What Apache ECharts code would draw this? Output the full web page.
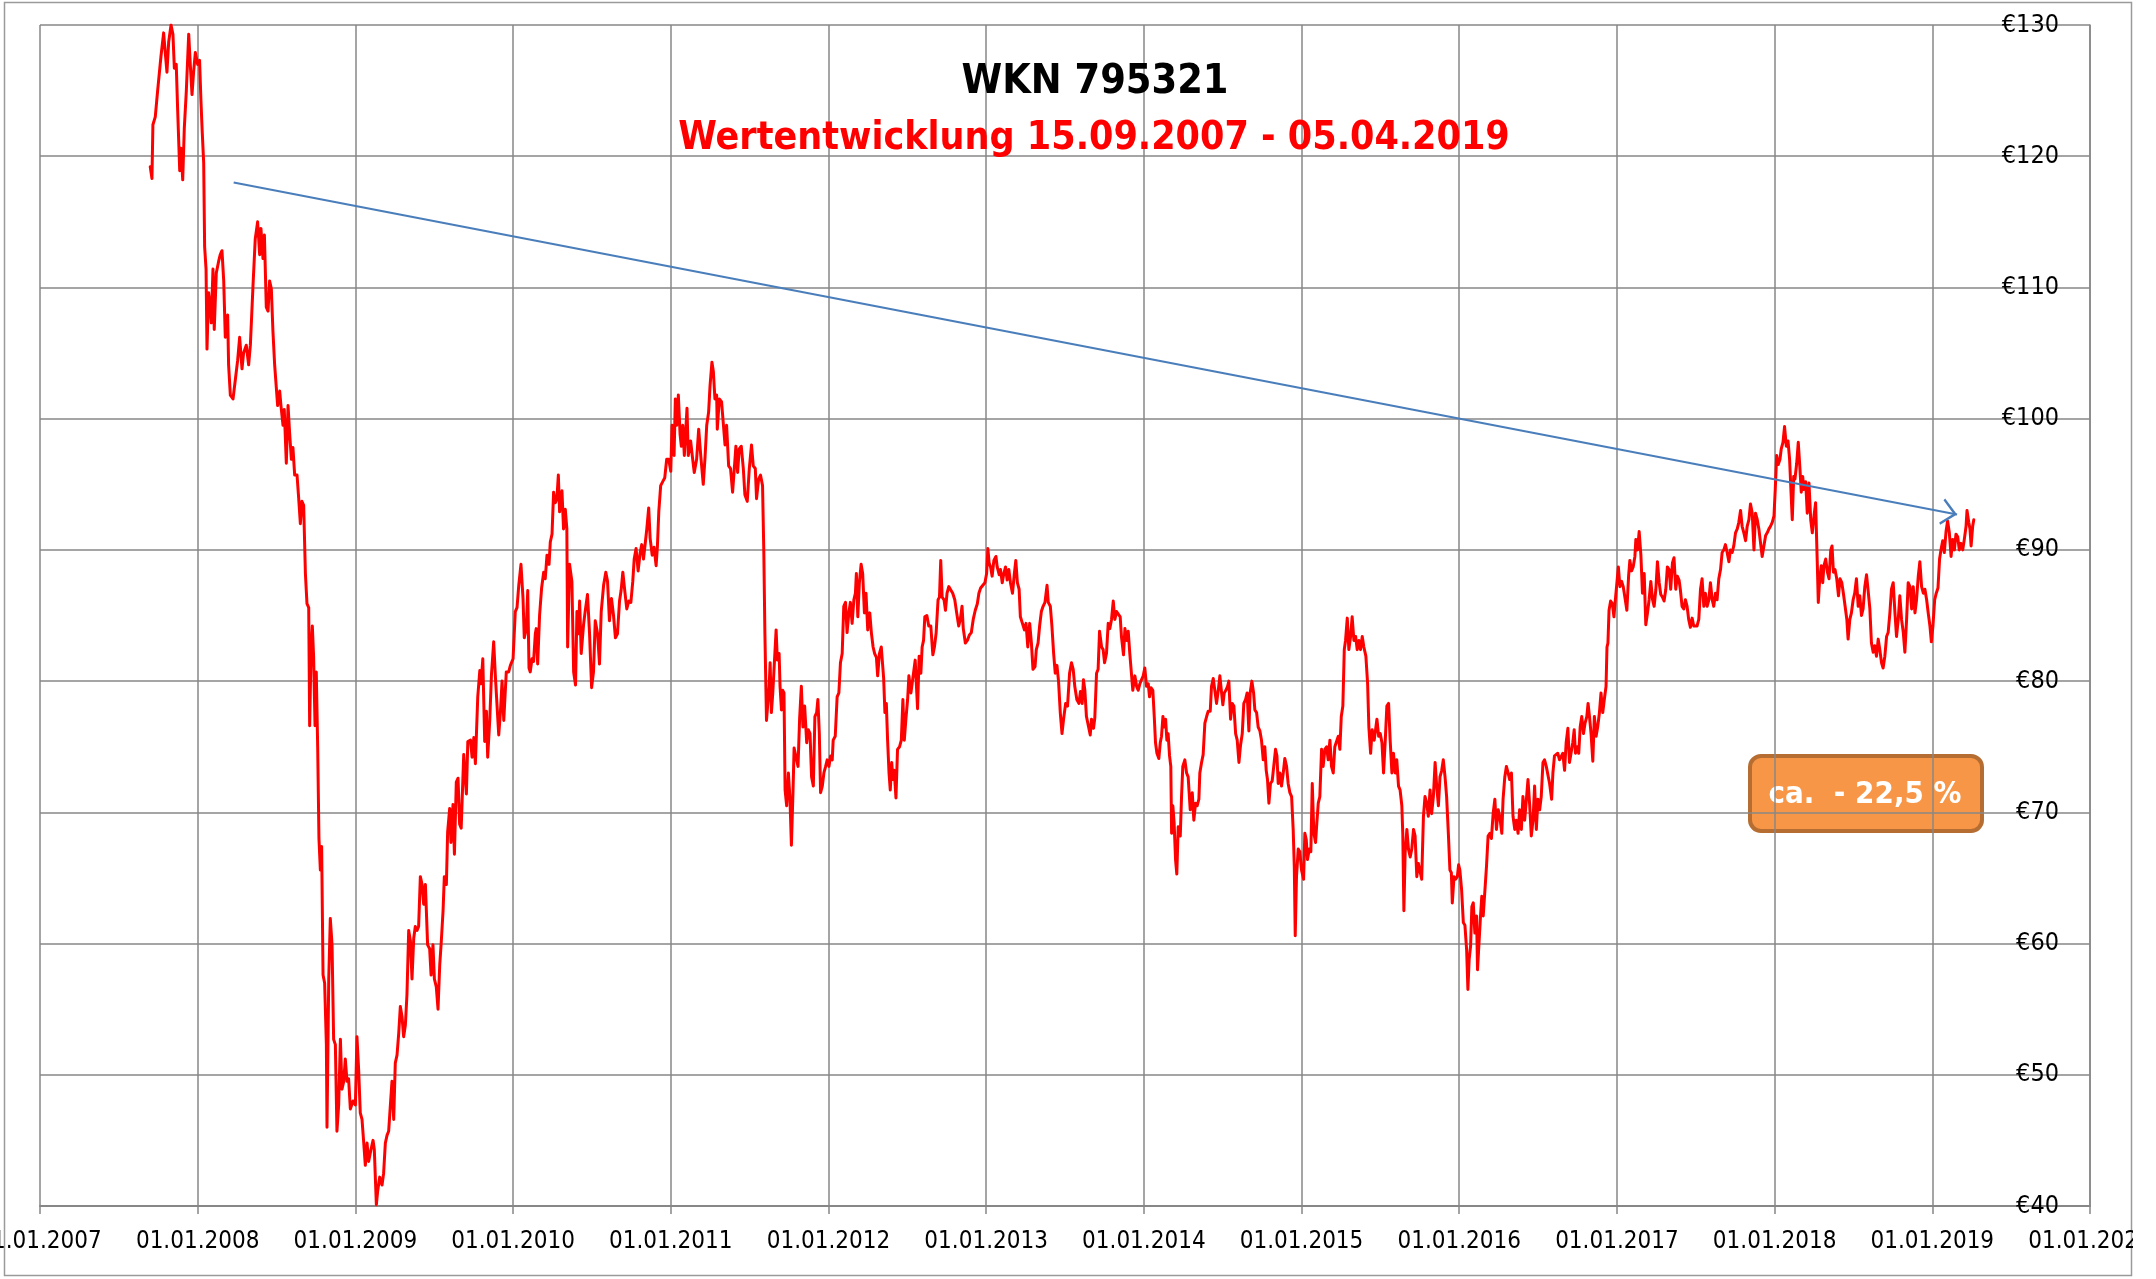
<!DOCTYPE html>
<html>
<head>
<meta charset="utf-8">
<title>WKN 795321</title>
<script src="https://cdn.jsdelivr.net/npm/echarts@6/dist/echarts.min.js"></script>
<style>
  html, body { margin: 0; padding: 0; background: #ffffff; }
  #chart { width: 2133px; height: 1279px; }
</style>
</head>
<body>
<div id="chart"></div>
<script>
// Closing prices, [date as decimal year, price in EUR]
const kurs2007_09 = [[2007.699,119.2],[2007.710,118.3],[2007.716,122.4],[2007.731,123.0],[2007.746,125.0],[2007.757,125.0],[2007.767,127.6],[2007.784,129.4],[2007.795,127.8],[2007.805,126.4],[2007.816,128.7],[2007.831,130.0],[2007.843,129.3],[2007.852,126.7],[2007.864,127.0],[2007.873,123.5],[2007.886,118.9],[2007.894,120.6],[2007.905,118.2],[2007.915,122.1],[2007.928,125.0],[2007.943,129.3],[2007.953,127.0],[2007.964,124.7],[2007.974,126.4],[2007.985,127.9],[2008.000,127.0],[2008.012,127.3],[2008.021,124.1],[2008.029,121.8],[2008.038,119.5],[2008.044,113.1],[2008.053,111.4],[2008.059,105.3],[2008.069,109.6],[2008.080,108.5],[2008.086,107.3],[2008.097,111.4],[2008.105,106.8],[2008.118,111.1],[2008.133,112.0],[2008.143,112.5],[2008.154,112.8],[2008.165,110.5],[2008.175,106.2],[2008.190,107.9],[2008.196,104.1],[2008.207,101.8],[2008.224,101.5],[2008.239,103.0],[2008.253,104.4],[2008.266,106.2],[2008.281,103.8],[2008.291,105.0],[2008.308,105.6],[2008.323,104.1],[2008.334,105.6],[2008.351,110.2],[2008.365,113.7],[2008.380,115.0],[2008.393,112.5],[2008.401,114.5],[2008.414,112.2],[2008.423,114.0],[2008.435,108.5],[2008.446,108.2],[2008.456,110.5],[2008.467,109.9],[2008.477,106.7],[2008.488,104.1],[2008.499,104.1],[2008.507,101.0],[2008.520,102.1],[2008.528,101.0],[2008.541,99.5],[2008.549,100.7],[2008.562,96.6],[2008.573,101.0],[2008.583,98.9],[2008.594,96.9],[2008.604,97.8],[2008.615,95.7],[2008.630,95.7],[2008.640,94.0],[2008.651,92.0],[2008.661,93.7],[2008.672,93.4],[2008.683,88.2],[2008.693,85.9],[2008.704,85.6],[2008.710,76.6],[2008.719,82.4],[2008.727,84.2],[2008.735,81.9],[2008.744,76.6],[2008.752,80.7],[2008.761,74.9],[2008.769,68.0],[2008.778,65.6],[2008.786,67.4],[2008.795,57.6],[2008.805,57.0],[2008.816,52.3],[2008.820,46.0],[2008.831,57.3],[2008.841,61.9],[2008.852,59.9],[2008.862,52.7],[2008.873,52.3],[2008.883,45.7],[2008.894,47.7],[2008.905,52.7],[2008.915,48.9],[2008.926,49.5],[2008.936,51.2],[2008.947,49.5],[2008.957,49.7],[2008.968,47.4],[2008.985,48.0],[2009.000,47.7],[2009.010,52.9],[2009.021,50.3],[2009.031,47.1],[2009.042,46.6],[2009.053,44.8],[2009.063,43.1],[2009.074,44.8],[2009.084,43.4],[2009.099,44.3],[2009.112,45.0],[2009.120,44.3],[2009.133,40.1],[2009.141,41.1],[2009.154,42.2],[2009.169,41.6],[2009.179,42.5],[2009.190,44.8],[2009.201,45.4],[2009.211,45.7],[2009.222,47.7],[2009.232,49.5],[2009.243,46.6],[2009.253,50.9],[2009.264,51.5],[2009.275,53.2],[2009.285,55.2],[2009.296,54.4],[2009.306,52.9],[2009.317,53.8],[2009.327,56.1],[2009.338,61.0],[2009.349,60.2],[2009.359,57.3],[2009.370,60.4],[2009.380,61.3],[2009.391,61.0],[2009.401,61.3],[2009.412,65.1],[2009.423,64.5],[2009.433,63.0],[2009.444,64.5],[2009.458,59.9],[2009.471,59.6],[2009.480,57.6],[2009.492,59.9],[2009.501,57.3],[2009.513,56.7],[2009.524,55.0],[2009.535,58.4],[2009.545,60.2],[2009.556,62.5],[2009.564,65.1],[2009.577,64.5],[2009.585,68.5],[2009.598,70.3],[2009.606,67.7],[2009.619,70.6],[2009.628,66.8],[2009.640,72.3],[2009.651,72.6],[2009.661,69.1]];

const kurs2009_11 = [[2009.671,68.8],[2009.687,74.4],[2009.704,71.4],[2009.713,75.4],[2009.730,75.5],[2009.740,74.2],[2009.751,75.7],[2009.761,73.7],[2009.776,78.8],[2009.789,80.8],[2009.797,79.8],[2009.808,81.7],[2009.820,75.4],[2009.831,77.7],[2009.839,74.2],[2009.852,77.0],[2009.863,80.5],[2009.877,83.0],[2009.888,80.3],[2009.898,80.3],[2009.909,75.9],[2009.920,77.7],[2009.930,80.0],[2009.941,77.0],[2009.957,80.7],[2009.972,80.7],[2009.983,81.2],[2010.000,81.7],[2010.014,85.3],[2010.025,85.6],[2010.036,87.3],[2010.050,88.9],[2010.063,86.3],[2010.071,83.3],[2010.084,84.0],[2010.093,86.9],[2010.101,81.0],[2010.109,80.7],[2010.120,81.7],[2010.130,81.5],[2010.141,83.6],[2010.147,84.0],[2010.156,81.3],[2010.168,85.0],[2010.181,87.1],[2010.194,88.3],[2010.204,87.8],[2010.215,89.6],[2010.228,88.9],[2010.236,90.6],[2010.247,91.2],[2010.257,94.4],[2010.268,93.6],[2010.278,93.9],[2010.287,95.7],[2010.295,92.9],[2010.310,94.5],[2010.320,91.6],[2010.331,93.1],[2010.341,91.6],[2010.346,82.6],[2010.358,88.9],[2010.373,87.6],[2010.384,80.7],[2010.396,79.7],[2010.405,85.3],[2010.415,83.6],[2010.422,86.1],[2010.432,82.1],[2010.447,84.3],[2010.457,85.3],[2010.472,86.6],[2010.485,83.6],[2010.498,79.5],[2010.510,80.7],[2010.521,84.6],[2010.536,83.6],[2010.548,81.3],[2010.559,85.3],[2010.574,87.3],[2010.588,88.3],[2010.599,87.6],[2010.611,84.6],[2010.624,86.3],[2010.637,85.0],[2010.649,83.3],[2010.662,83.6],[2010.675,86.1],[2010.685,86.9],[2010.696,88.3],[2010.709,86.8],[2010.721,85.5],[2010.734,86.1],[2010.747,86.0],[2010.759,87.6],[2010.768,89.3],[2010.780,90.1],[2010.793,88.4],[2010.806,89.8],[2010.816,90.4],[2010.827,89.3],[2010.839,90.6],[2010.848,91.6],[2010.860,93.2],[2010.869,90.9],[2010.882,89.6],[2010.894,90.2],[2010.907,88.8],[2010.915,90.2],[2010.924,92.9],[2010.936,94.9],[2010.949,95.2],[2010.962,95.5],[2010.974,96.9],[2010.987,96.9],[2011.000,96.0],[2011.008,99.5],[2011.021,97.2],[2011.029,101.5],[2011.038,99.5],[2011.048,101.8],[2011.059,98.8],[2011.067,97.9],[2011.076,99.5],[2011.086,97.2],[2011.103,100.8],[2011.111,97.2],[2011.126,98.3],[2011.139,96.9],[2011.149,95.9],[2011.164,96.9],[2011.177,99.2],[2011.190,97.2],[2011.206,95.0],[2011.217,97.0],[2011.228,99.5],[2011.240,100.5],[2011.249,102.5],[2011.261,104.3],[2011.270,103.6],[2011.280,101.5],[2011.291,101.8],[2011.295,99.2],[2011.308,101.5],[2011.322,101.3],[2011.333,101.3],[2011.344,98.0],[2011.354,99.5],[2011.367,96.4],[2011.379,96.2],[2011.392,94.4],[2011.403,96.2],[2011.413,97.9],[2011.424,95.9],[2011.434,97.7],[2011.447,97.9],[2011.460,96.2],[2011.470,94.2],[2011.485,93.7],[2011.498,96.2],[2011.512,98.0],[2011.523,96.4],[2011.536,96.2],[2011.544,93.9],[2011.557,95.4],[2011.569,95.7],[2011.582,94.9],[2011.590,89.9],[2011.597,83.6],[2011.607,77.0]];

const kurs2011_13 = [[2011.624,79.6],[2011.630,81.4],[2011.638,77.6],[2011.647,79.1],[2011.659,79.2],[2011.668,83.9],[2011.676,81.6],[2011.687,82.1],[2011.693,79.6],[2011.702,77.8],[2011.710,79.3],[2011.718,79.1],[2011.725,71.7],[2011.735,70.5],[2011.746,73.0],[2011.756,71.0],[2011.765,67.5],[2011.775,71.5],[2011.782,74.9],[2011.792,74.8],[2011.807,73.5],[2011.817,77.1],[2011.828,79.6],[2011.838,76.5],[2011.849,78.1],[2011.862,75.3],[2011.872,76.3],[2011.883,76.0],[2011.893,72.7],[2011.904,72.0],[2011.914,77.3],[2011.925,77.6],[2011.933,78.6],[2011.942,76.0],[2011.950,71.5],[2011.961,72.0],[2011.971,73.0],[2011.982,73.5],[2011.992,74.0],[2012.003,73.5],[2012.013,74.3],[2012.024,74.0],[2012.030,75.5],[2012.043,75.8],[2012.055,78.8],[2012.066,79.1],[2012.076,81.4],[2012.087,82.1],[2012.097,85.7],[2012.108,86.0],[2012.118,83.7],[2012.129,85.2],[2012.139,86.0],[2012.150,84.4],[2012.161,86.2],[2012.171,86.7],[2012.177,88.2],[2012.186,84.9],[2012.196,87.5],[2012.207,88.9],[2012.217,88.2],[2012.228,85.2],[2012.238,86.7],[2012.249,83.9],[2012.262,85.2],[2012.272,83.7],[2012.283,82.6],[2012.293,82.1],[2012.304,81.8],[2012.312,80.4],[2012.323,82.1],[2012.335,82.6],[2012.350,80.2],[2012.358,77.6],[2012.367,78.3],[2012.375,75.5],[2012.384,73.0],[2012.392,71.7],[2012.401,73.8],[2012.409,72.5],[2012.417,73.2],[2012.428,71.1],[2012.438,74.8],[2012.451,75.0],[2012.462,75.5],[2012.472,78.6],[2012.481,75.5],[2012.491,77.1],[2012.502,78.6],[2012.510,80.4],[2012.523,79.1],[2012.535,79.0],[2012.550,81.6],[2012.556,80.1],[2012.565,77.9],[2012.575,81.9],[2012.586,80.6],[2012.594,82.6],[2012.603,83.1],[2012.611,84.9],[2012.624,85.0],[2012.636,84.2],[2012.649,84.2],[2012.662,82.0],[2012.672,82.6],[2012.683,83.7],[2012.695,86.2],[2012.704,86.4],[2012.712,89.2],[2012.721,86.4],[2012.733,86.2],[2012.742,85.4],[2012.752,86.7],[2012.763,87.2],[2012.775,87.2],[2012.788,86.7],[2012.801,86.2],[2012.813,85.2],[2012.826,84.2],[2012.836,84.7],[2012.847,85.7],[2012.855,84.0],[2012.868,82.9],[2012.881,83.1],[2012.893,83.5],[2012.906,83.7],[2012.918,84.7],[2012.931,85.4],[2012.944,85.9],[2012.954,86.7],[2012.965,87.1],[2012.977,87.1],[2012.992,87.5],[2013.003,88.2],[2013.011,90.1],[2013.019,89.0],[2013.028,88.7],[2013.038,88.0],[2013.049,89.2],[2013.062,89.5],[2013.070,88.7],[2013.083,88.1],[2013.091,88.5],[2013.102,87.5],[2013.112,88.2],[2013.123,88.7],[2013.133,87.7],[2013.144,88.5],[2013.154,87.5],[2013.167,86.7],[2013.179,88.2],[2013.188,89.2],[2013.198,87.5],[2013.209,87.0],[2013.217,84.9],[2013.230,84.4],[2013.243,83.9],[2013.253,84.4],[2013.264,82.6],[2013.276,84.4],[2013.287,82.9],[2013.297,80.9],[2013.310,81.1],[2013.318,82.4],[2013.329,82.9],[2013.339,84.2],[2013.350,85.3],[2013.361,85.7],[2013.373,86.0],[2013.386,87.3],[2013.394,86.0],[2013.407,85.7],[2013.417,84.2],[2013.428,82.1],[2013.438,80.6],[2013.449,81.2],[2013.459,80.0],[2013.470,77.6],[2013.481,76.0],[2013.491,77.1],[2013.504,78.3],[2013.516,78.1],[2013.529,80.6]];

const kurs2013_15 = [[2013.541,81.4],[2013.552,80.9],[2013.562,79.6],[2013.575,78.6],[2013.588,78.3],[2013.598,79.2],[2013.609,78.3],[2013.617,80.1],[2013.626,79.3],[2013.636,77.3],[2013.647,77.3],[2013.660,75.9],[2013.668,77.1],[2013.681,76.4],[2013.689,77.2],[2013.700,80.6],[2013.710,80.9],[2013.719,83.8],[2013.732,82.6],[2013.742,82.4],[2013.751,81.4],[2013.763,82.1],[2013.774,84.4],[2013.784,84.0],[2013.795,84.7],[2013.806,86.1],[2013.816,84.7],[2013.827,85.3],[2013.837,85.2],[2013.850,84.9],[2013.858,83.4],[2013.871,82.0],[2013.880,84.0],[2013.892,83.1],[2013.901,83.8],[2013.911,82.1],[2013.922,82.1],[2013.930,79.3],[2013.943,80.4],[2013.954,79.6],[2013.964,79.3],[2013.975,79.8],[2013.985,80.1],[2013.996,80.4],[2014.006,81.0],[2014.017,79.6],[2014.028,79.8],[2014.036,78.8],[2014.045,79.5],[2014.057,79.3],[2014.066,77.3],[2014.074,75.3],[2014.083,74.5],[2014.095,74.1],[2014.104,75.3],[2014.112,75.8],[2014.121,77.3],[2014.129,76.5],[2014.138,77.1],[2014.146,75.5],[2014.154,76.0],[2014.163,74.3],[2014.171,73.5],[2014.176,68.4],[2014.184,70.5],[2014.192,69.2],[2014.201,66.4],[2014.209,65.3],[2014.218,68.9],[2014.231,68.2],[2014.239,71.2],[2014.247,73.5],[2014.260,74.0],[2014.271,73.0],[2014.281,72.7],[2014.294,70.2],[2014.307,71.5],[2014.317,69.4],[2014.328,70.7],[2014.338,70.5],[2014.349,71.0],[2014.355,73.0],[2014.366,73.8],[2014.376,74.4],[2014.387,76.8],[2014.398,77.3],[2014.408,77.7],[2014.421,77.7],[2014.429,79.6],[2014.440,80.2],[2014.450,79.3],[2014.461,78.3],[2014.472,79.3],[2014.482,80.4],[2014.493,79.1],[2014.501,78.2],[2014.510,79.1],[2014.520,79.3],[2014.531,79.6],[2014.539,80.0],[2014.550,77.1],[2014.560,78.3],[2014.571,78.1],[2014.582,76.0],[2014.592,75.5],[2014.603,73.8],[2014.613,75.1],[2014.624,76.0],[2014.634,78.3],[2014.645,78.6],[2014.655,79.1],[2014.666,76.2],[2014.674,79.1],[2014.685,80.0],[2014.696,79.1],[2014.704,77.8],[2014.715,77.6],[2014.725,76.5],[2014.736,76.2],[2014.746,75.5],[2014.757,74.0],[2014.767,75.0],[2014.776,73.2],[2014.784,72.5],[2014.793,70.7],[2014.803,72.2],[2014.814,72.4],[2014.825,72.4],[2014.835,74.8],[2014.844,74.3],[2014.852,72.2],[2014.863,73.0],[2014.873,72.0],[2014.884,73.0],[2014.894,74.1],[2014.905,73.5],[2014.915,72.2],[2014.926,71.5],[2014.937,71.2],[2014.947,68.7],[2014.954,65.9],[2014.960,60.6],[2014.968,65.1],[2014.979,67.2],[2014.989,67.0],[2015.000,65.6],[2015.013,64.9],[2015.021,68.4],[2015.030,67.9],[2015.038,66.4],[2015.049,67.2],[2015.059,67.0],[2015.068,72.2],[2015.078,68.4],[2015.089,67.7],[2015.097,69.2],[2015.106,70.7],[2015.116,71.2],[2015.127,74.8],[2015.137,73.5],[2015.148,74.8],[2015.159,75.0],[2015.169,74.0],[2015.180,75.5],[2015.190,73.5],[2015.201,73.0],[2015.211,75.0],[2015.222,75.0],[2015.233,75.8],[2015.243,74.8],[2015.252,77.3],[2015.262,78.1],[2015.271,82.4],[2015.279,83.1],[2015.290,84.8],[2015.300,82.4],[2015.311,83.4],[2015.321,84.9],[2015.332,83.1],[2015.343,83.4],[2015.353,82.4],[2015.364,83.1],[2015.374,82.4],[2015.385,83.4],[2015.395,82.6],[2015.408,81.9],[2015.419,79.8],[2015.427,76.5],[2015.438,74.5],[2015.448,76.3],[2015.461,75.5]];

const kurs2015_17 = [[2015.468,75.5],[2015.478,77.1],[2015.489,75.8],[2015.499,76.0],[2015.510,75.3],[2015.520,73.0],[2015.531,75.5],[2015.541,78.1],[2015.552,78.3],[2015.562,75.5],[2015.573,73.0],[2015.583,74.5],[2015.594,73.0],[2015.604,74.0],[2015.615,72.0],[2015.625,71.7],[2015.636,70.5],[2015.642,68.4],[2015.649,62.5],[2015.657,66.9],[2015.668,68.7],[2015.678,67.2],[2015.689,66.6],[2015.699,67.2],[2015.710,68.7],[2015.720,68.2],[2015.731,65.1],[2015.741,66.1],[2015.752,66.1],[2015.762,64.9],[2015.773,69.7],[2015.783,71.2],[2015.794,70.7],[2015.804,69.7],[2015.815,71.7],[2015.825,69.9],[2015.836,71.2],[2015.847,73.8],[2015.857,72.0],[2015.868,70.5],[2015.878,72.7],[2015.889,73.2],[2015.899,74.0],[2015.910,72.7],[2015.920,71.2],[2015.931,68.4],[2015.941,65.6],[2015.950,65.4],[2015.956,63.1],[2015.967,65.1],[2015.977,64.9],[2015.988,65.1],[2015.996,66.0],[2016.004,65.6],[2016.015,64.1],[2016.026,61.6],[2016.036,61.4],[2016.047,59.5],[2016.055,56.5],[2016.063,58.8],[2016.072,59.8],[2016.080,62.8],[2016.089,63.1],[2016.099,60.8],[2016.110,62.1],[2016.116,58.0],[2016.122,59.3],[2016.135,62.1],[2016.143,63.6],[2016.152,62.1],[2016.162,63.9],[2016.173,65.9],[2016.183,68.2],[2016.194,68.4],[2016.204,68.0],[2016.215,69.9],[2016.226,71.0],[2016.236,68.7],[2016.247,70.2],[2016.257,69.7],[2016.270,68.4],[2016.278,71.0],[2016.289,72.7],[2016.299,73.5],[2016.310,73.0],[2016.320,72.5],[2016.331,73.0],[2016.341,69.7],[2016.352,68.7],[2016.362,69.4],[2016.373,68.4],[2016.383,70.2],[2016.394,68.7],[2016.404,71.2],[2016.415,69.4],[2016.426,71.0],[2016.436,72.5],[2016.447,70.5],[2016.457,68.2],[2016.468,69.4],[2016.478,72.0],[2016.489,68.7],[2016.499,71.0],[2016.510,70.2],[2016.520,71.2],[2016.531,73.8],[2016.541,74.0],[2016.552,73.5],[2016.562,73.5],[2016.573,72.2],[2016.586,71.0],[2016.594,73.0],[2016.604,74.3],[2016.615,74.3],[2016.625,74.5],[2016.636,74.0],[2016.647,74.0],[2016.657,74.5],[2016.668,73.2],[2016.678,75.3],[2016.689,76.4],[2016.699,73.8],[2016.710,73.8],[2016.720,75.3],[2016.729,76.3],[2016.737,74.5],[2016.748,75.0],[2016.758,74.5],[2016.767,76.5],[2016.777,77.3],[2016.788,76.0],[2016.798,76.8],[2016.809,77.3],[2016.817,78.3],[2016.826,77.3],[2016.836,76.0],[2016.847,73.9],[2016.857,77.3],[2016.868,75.8],[2016.878,76.5],[2016.889,77.6],[2016.899,79.1],[2016.910,77.6],[2016.920,78.6],[2016.931,79.6],[2016.937,82.6],[2016.943,82.9],[2016.950,85.4],[2016.960,86.1],[2016.971,85.9],[2016.981,84.9],[2016.990,86.2],[2017.000,86.2],[2017.009,88.7],[2017.019,87.2],[2017.030,87.6],[2017.040,87.2],[2017.053,86.2],[2017.063,85.4],[2017.074,88.0],[2017.082,89.2],[2017.093,88.4],[2017.103,88.7],[2017.114,89.5],[2017.120,90.8],[2017.131,90.0],[2017.141,91.4],[2017.152,89.6],[2017.162,86.7],[2017.173,88.2],[2017.183,84.3],[2017.194,85.2],[2017.204,86.2],[2017.215,87.6],[2017.226,86.2],[2017.236,85.7],[2017.247,87.0],[2017.257,89.1],[2017.268,87.5],[2017.278,86.6],[2017.289,86.4],[2017.299,86.1],[2017.310,87.0],[2017.320,88.7],[2017.331,88.5],[2017.341,87.0],[2017.352,89.0],[2017.362,89.4],[2017.373,87.0],[2017.383,88.0],[2017.394,87.7]];

const kurs2017_19 = [[2017.402,87.0],[2017.413,85.7],[2017.424,85.5],[2017.434,86.2],[2017.445,85.7],[2017.455,84.7],[2017.466,84.1],[2017.477,84.8],[2017.487,84.2],[2017.498,84.1],[2017.508,84.2],[2017.519,84.7],[2017.530,87.0],[2017.540,87.8],[2017.551,85.7],[2017.561,86.7],[2017.572,85.7],[2017.583,86.2],[2017.593,87.5],[2017.604,86.2],[2017.614,85.7],[2017.625,86.7],[2017.635,86.2],[2017.646,87.8],[2017.657,88.5],[2017.667,89.8],[2017.678,90.0],[2017.688,90.4],[2017.699,89.8],[2017.710,89.1],[2017.720,90.0],[2017.731,89.8],[2017.741,90.3],[2017.752,91.3],[2017.763,91.6],[2017.773,92.1],[2017.784,93.0],[2017.794,91.8],[2017.805,91.3],[2017.816,90.7],[2017.826,91.8],[2017.837,92.3],[2017.847,93.5],[2017.858,92.8],[2017.869,90.0],[2017.879,92.8],[2017.890,92.3],[2017.900,91.6],[2017.911,90.5],[2017.921,89.5],[2017.932,90.3],[2017.943,91.1],[2017.953,91.3],[2017.964,91.6],[2017.974,91.8],[2017.985,92.1],[2017.996,92.6],[2018.004,94.6],[2018.013,97.2],[2018.023,96.5],[2018.034,96.9],[2018.042,97.7],[2018.053,98.2],[2018.063,99.4],[2018.074,97.9],[2018.085,98.3],[2018.095,96.9],[2018.104,94.4],[2018.112,92.3],[2018.121,95.6],[2018.129,95.4],[2018.140,96.6],[2018.150,98.2],[2018.161,96.1],[2018.169,94.4],[2018.178,95.6],[2018.186,94.6],[2018.197,95.2],[2018.207,92.8],[2018.218,95.1],[2018.229,92.3],[2018.239,91.3],[2018.250,92.6],[2018.260,93.6],[2018.271,88.8],[2018.277,86.0],[2018.286,87.8],[2018.296,88.8],[2018.305,87.5],[2018.313,88.8],[2018.324,89.3],[2018.335,88.3],[2018.345,87.8],[2018.356,90.0],[2018.364,90.3],[2018.373,88.3],[2018.383,88.5],[2018.394,87.8],[2018.405,86.5],[2018.415,87.8],[2018.426,87.5],[2018.436,86.7],[2018.447,85.7],[2018.458,84.7],[2018.466,83.2],[2018.477,84.7],[2018.487,85.2],[2018.498,86.2],[2018.508,86.7],[2018.519,87.8],[2018.530,85.7],[2018.540,86.5],[2018.551,85.0],[2018.561,85.5],[2018.572,87.2],[2018.583,88.1],[2018.593,86.9],[2018.604,85.5],[2018.614,82.9],[2018.625,82.2],[2018.635,82.7],[2018.646,81.9],[2018.657,83.2],[2018.667,82.4],[2018.678,81.4],[2018.688,81.0],[2018.699,81.9],[2018.710,83.4],[2018.720,83.7],[2018.731,85.2],[2018.741,87.0],[2018.752,87.5],[2018.763,85.2],[2018.773,83.4],[2018.784,84.7],[2018.794,86.5],[2018.805,84.7],[2018.816,83.7],[2018.826,82.2],[2018.837,84.7],[2018.847,87.5],[2018.858,87.2],[2018.869,85.5],[2018.879,87.2],[2018.890,85.2],[2018.900,86.2],[2018.911,88.0],[2018.921,89.1],[2018.932,87.2],[2018.943,86.7],[2018.953,87.0],[2018.964,86.2],[2018.974,85.2],[2018.985,84.2],[2018.994,83.0],[2019.004,84.2],[2019.015,86.2],[2019.025,86.7],[2019.036,87.1],[2019.046,89.3],[2019.055,90.0],[2019.066,90.7],[2019.076,89.8],[2019.087,91.4],[2019.097,92.2],[2019.108,91.3],[2019.119,89.5],[2019.129,90.8],[2019.140,90.0],[2019.150,91.2],[2019.161,91.0],[2019.171,90.0],[2019.182,90.5],[2019.193,90.0],[2019.203,90.8],[2019.214,91.8],[2019.220,93.0],[2019.231,92.1],[2019.239,91.6],[2019.246,90.3],[2019.256,91.8],[2019.263,92.3]];

// Axis ranges and tick labels
const yearTicks = [2007, 2008, 2009, 2010, 2011, 2012, 2013, 2014, 2015, 2016, 2017, 2018, 2019, 2020];
const priceTicks = [40, 50, 60, 70, 80, 90, 100, 110, 120, 130];

// Downward trend from early 2008 to spring 2019
const trendStart = [2008.228, 118.0];
const trendEnd = [2019.157, 92.7];

// Texts
const titleText = 'WKN 795321';
const subtitleText = 'Wertentwicklung 15.09.2007 - 05.04.2019';
const calloutText = 'ca.  - 22,5 %';

const kurs = [].concat(kurs2007_09, kurs2009_11, kurs2011_13, kurs2013_15, kurs2015_17, kurs2017_19);

const FONT = "'DejaVu Sans Condensed', 'Liberation Sans Narrow', sans-serif";
const GRID_COLOR = '#878787';

// Open chevron arrow head; the extra move-to points square the box so the tip sits at its centre
const ARROW_HEAD = 'path://M0,0 M24,24 M2,23 L12,12 L22,23 L20.5,24 L12,14.8 L3.5,24 Z';

const chart = echarts.init(document.getElementById('chart'), null, { renderer: 'canvas' });

chart.setOption({
  animation: false,
  backgroundColor: '#ffffff',
  grid: { left: 40, right: 43, top: 25, bottom: 73, containLabel: false, outerBoundsMode: 'none' },
  xAxis: {
    type: 'value',
    min: yearTicks[0],
    max: yearTicks[yearTicks.length - 1],
    interval: 1,
    axisLine: { show: true, onZero: false, lineStyle: { color: GRID_COLOR, width: 2 } },
    axisTick: { show: true, inside: false, length: 8, lineStyle: { color: GRID_COLOR, width: 1.5 } },
    axisLabel: {
      show: true, margin: 24, color: '#000000', fontSize: 24, fontFamily: FONT,
      hideOverlap: false,
      formatter: v => '01.01.' + v
    },
    splitLine: { show: true, lineStyle: { color: GRID_COLOR, width: 1.5 } }
  },
  yAxis: {
    type: 'value',
    position: 'right',
    min: priceTicks[0],
    max: priceTicks[priceTicks.length - 1],
    interval: priceTicks[1] - priceTicks[0],
    axisLine: { show: true, lineStyle: { color: GRID_COLOR, width: 1.5 } },
    axisTick: { show: false },
    axisLabel: {
      inside: true, margin: 31, color: '#000000', fontSize: 25, fontFamily: FONT,
      formatter: v => '\u20AC' + v
    },
    splitLine: { show: true, lineStyle: { color: GRID_COLOR, width: 1.5 } }
  },
  series: [
    {
      name: 'Kurs',
      type: 'line',
      data: kurs,
      showSymbol: false,
      symbol: 'none',
      silent: true,
      z: 3,
      lineStyle: { color: '#FF0000', width: 3, join: 'round', cap: 'round' },
      itemStyle: { color: '#FF0000' }
    },
    {
      name: 'Trend',
      type: 'line',
      data: [],
      silent: true,
      z: 4,
      markLine: {
        silent: true,
        animation: false,
        symbol: ['none', ARROW_HEAD],
        symbolSize: 32,
        label: { show: false },
        emphasis: { disabled: true },
        lineStyle: { color: '#4A7EBB', width: 2.2, type: 'solid' },
        data: [[{ coord: trendStart }, { coord: trendEnd }]]
      }
    }
  ],
  graphic: [
    {
      type: 'rect', z: -10, silent: true,
      shape: { x: 4.5, y: 2.5, width: 2127, height: 1273 },
      style: { fill: 'none', stroke: '#9a9a9a', lineWidth: 1.5 }
    },
    {
      type: 'text', z: 10, silent: true, x: 1095, y: 82,
      style: {
        text: titleText, fill: '#000000', fontSize: 41, fontWeight: 'bold', fontFamily: FONT,
        align: 'center', verticalAlign: 'middle', textAlign: 'center', textVerticalAlign: 'middle'
      }
    },
    {
      type: 'text', z: 10, silent: true, x: 1094, y: 139,
      style: {
        text: subtitleText, fill: '#FF0000', fontSize: 39, fontWeight: 'bold', fontFamily: FONT,
        align: 'center', verticalAlign: 'middle', textAlign: 'center', textVerticalAlign: 'middle'
      }
    },
    {
      type: 'group', z: 10, silent: true,
      children: [
        {
          type: 'rect',
          shape: { x: 1750, y: 756, width: 232, height: 75, r: 11 },
          style: { fill: '#F79646', stroke: '#B66D31', lineWidth: 4 }
        },
        {
          type: 'text', x: 1865, y: 795,
          style: {
            text: calloutText, fill: '#ffffff', fontSize: 31, fontWeight: 'bold', fontFamily: FONT,
            align: 'center', verticalAlign: 'middle', textAlign: 'center', textVerticalAlign: 'middle'
          }
        }
      ]
    }
  ]
});
</script>
</body>
</html>
